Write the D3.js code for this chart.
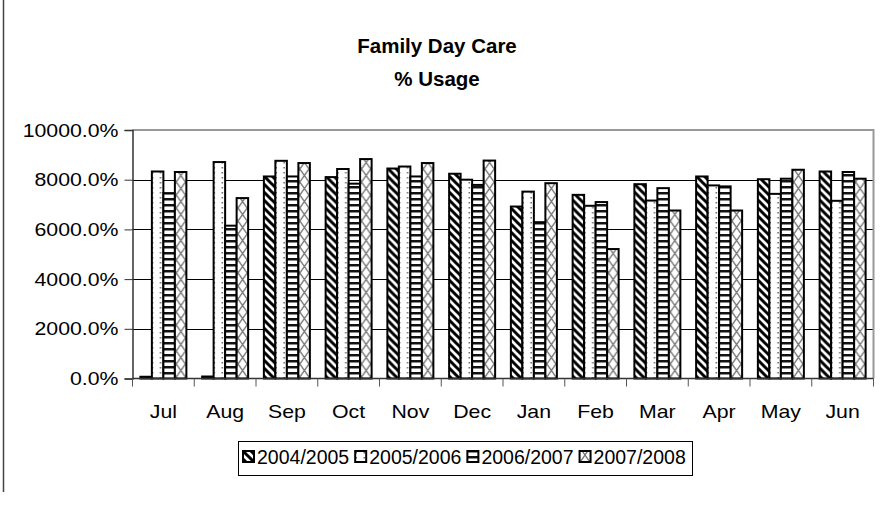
<!DOCTYPE html>
<html>
<head>
<meta charset="utf-8">
<script src="https://cdn.jsdelivr.net/npm/d3@7"></script>
<style>
  html, body { margin: 0; padding: 0; background: #fff; }
  svg { display: block; font-family: "Liberation Sans", Arial, sans-serif; }
</style>
</head>
<body>
<svg id="chart" width="886" height="506"></svg>
<script>
// Monthly usage, one array per financial year
const months = ["Jul", "Aug", "Sep", "Oct", "Nov", "Dec", "Jan", "Feb", "Mar", "Apr", "May", "Jun"];
const seriesNames = ["2004/2005", "2005/2006", "2006/2007", "2007/2008"];
const fy0405 = [70, 80, 8130, 8105, 8450, 8240, 6920, 7390, 7820, 8130, 8020, 8330];
const fy0506 = [8330, 8710, 8760, 8430, 8530, 8000, 7520, 6950, 7160, 7770, 7430, 7150];
const fy0607 = [7460, 6150, 8130, 7840, 8130, 7790, 6290, 7100, 7660, 7730, 8040, 8310];
const fy0708 = [8310, 7260, 8670, 8830, 8670, 8770, 7860, 5210, 6760, 6760, 8400, 8040];
const yTicks = [0, 2000, 4000, 6000, 8000, 10000];

const seriesValues = [fy0405, fy0506, fy0607, fy0708];
const rows = months.map((m, i) => ({
  month: m,
  values: seriesNames.map((s, k) => ({ series: s, value: seriesValues[k][i] }))
}));

const svg = d3.select("#chart");
const plot = { left: 132.5, right: 873.5, top: 130, bottom: 378.5 };
const widen = 1.12; // horizontal stretch of the axis lettering

function stretch(sel) {
  sel.each(function () {
    const w = this.getComputedTextLength();
    d3.select(this).attr("textLength", w * widen).attr("lengthAdjust", "spacingAndGlyphs");
  });
}

// Fill patterns for the four series
const defs = svg.append("defs");
const patIds = ["p-diag", "p-dots", "p-horiz", "p-cross"];

const pDiag = defs.append("pattern").attr("id", patIds[0])
  .attr("patternUnits", "userSpaceOnUse").attr("width", 8).attr("height", 8);
pDiag.append("rect").attr("width", 8).attr("height", 8).attr("fill", "#fff");
pDiag.append("path").attr("d", "M-2,-2 L10,10 M-2,6 L2,10 M6,-2 L10,2")
  .attr("stroke", "#000").attr("stroke-width", 3);

const pDots = defs.append("pattern").attr("id", patIds[1])
  .attr("patternUnits", "userSpaceOnUse").attr("width", 8).attr("height", 5);
pDots.append("rect").attr("width", 8).attr("height", 5).attr("fill", "#fff");
pDots.append("rect").attr("x", 3.5).attr("y", 2).attr("width", 1.5).attr("height", 1.5).attr("fill", "#666");

const pHoriz = defs.append("pattern").attr("id", patIds[2])
  .attr("patternUnits", "userSpaceOnUse").attr("width", 8).attr("height", 6);
pHoriz.append("rect").attr("width", 8).attr("height", 6).attr("fill", "#fff");
pHoriz.append("rect").attr("y", 0).attr("width", 8).attr("height", 2.5).attr("fill", "#111");

const pCross = defs.append("pattern").attr("id", patIds[3])
  .attr("patternUnits", "userSpaceOnUse").attr("width", 9).attr("height", 13);
pCross.append("rect").attr("width", 9).attr("height", 13).attr("fill", "#fff");
pCross.append("path").attr("d", "M0,0 L9,13 M9,0 L0,13")
  .attr("stroke", "#777").attr("stroke-width", 1.3);

// Outer frame (left edge visible)
svg.append("line").attr("x1", 3.5).attr("x2", 3.5).attr("y1", 0).attr("y2", 492)
  .attr("stroke", "#444").attr("stroke-width", 1.5);

// Title
const title = svg.append("text").attr("text-anchor", "middle")
  .attr("font-weight", "bold").attr("font-size", 20.5).attr("fill", "#000");
title.append("tspan").attr("x", 437).attr("y", 53).text("Family Day Care");
title.append("tspan").attr("x", 437).attr("y", 86).text("% Usage");

// Scales
const x0 = d3.scaleBand().domain(months).range([plot.left, plot.right])
  .paddingInner(0.255).paddingOuter(0.1275);
const x1 = d3.scaleBand().domain(seriesNames).range([0, x0.bandwidth()]);
const y = d3.scaleLinear().domain([0, 10000]).range([plot.bottom, plot.top]);

// Gridlines
svg.append("g").selectAll("line").data(yTicks.filter(t => t > 0 && t < 10000)).join("line")
  .attr("x1", plot.left).attr("x2", plot.right)
  .attr("y1", d => Math.round(y(d)) + 0.5).attr("y2", d => Math.round(y(d)) + 0.5)
  .attr("stroke", "#000").attr("stroke-width", 1);

// Plot area frame (top and right in grey)
svg.append("path")
  .attr("d", `M${plot.left},${plot.top} H${plot.right} V${plot.bottom}`)
  .attr("fill", "none").attr("stroke", "#999").attr("stroke-width", 2);

// Bars
const groups = svg.append("g").selectAll("g").data(rows).join("g")
  .attr("transform", d => `translate(${x0(d.month)},0)`);
groups.selectAll("rect").data(d => d.values).join("rect")
  .attr("x", d => x1(d.series))
  .attr("width", x1.bandwidth())
  .attr("y", d => y(d.value))
  .attr("height", d => y(0) - y(d.value))
  .attr("fill", (d, i) => `url(#${patIds[i]})`)
  .attr("stroke", "#000").attr("stroke-width", 2);

// Y axis
const yAxis = svg.append("g").attr("transform", `translate(${plot.left},0)`)
  .call(d3.axisLeft(y).tickValues(yTicks).tickSize(8).tickPadding(6)
    .tickFormat(d => d3.format(".1f")(d) + "%"));
yAxis.select(".domain").attr("stroke", "#333").attr("stroke-width", 1.5);
yAxis.selectAll(".tick line").attr("stroke", "#333");
yAxis.selectAll(".tick text").attr("font-size", 19).attr("fill", "#000")
  .attr("font-family", "Liberation Sans, Arial, sans-serif").call(stretch);

// X axis with ticks at category boundaries
const xAxisG = svg.append("g").attr("transform", `translate(0,${plot.bottom})`);
xAxisG.append("line").attr("x1", plot.left).attr("x2", plot.right)
  .attr("stroke", "#333").attr("stroke-width", 1.5);
const step = x0.step();
const bounds = d3.range(months.length + 1).map(i => plot.left + i * step);
xAxisG.selectAll("line.tk").data(bounds).join("line").attr("class", "tk")
  .attr("x1", d => d).attr("x2", d => d).attr("y1", 0).attr("y2", 8)
  .attr("stroke", "#555").attr("stroke-width", 1);
xAxisG.selectAll("text").data(months).join("text")
  .attr("x", d => x0(d) + x0.bandwidth() / 2)
  .attr("y", 39)
  .attr("text-anchor", "middle").attr("font-size", 19).attr("fill", "#000")
  .text(d => d).call(stretch);

// Legend
const legend = svg.append("g");
legend.append("rect").attr("x", 238.5).attr("y", 441.5).attr("width", 454).attr("height", 34)
  .attr("fill", "#fff").attr("stroke", "#000").attr("stroke-width", 1);
let lx = 243;
seriesNames.forEach((name, i) => {
  legend.append("rect").attr("x", lx).attr("y", 451).attr("width", 11).attr("height", 11)
    .attr("fill", `url(#${patIds[i]})`).attr("stroke", "#000").attr("stroke-width", 2);
  const t = legend.append("text").attr("x", lx + 14).attr("y", 464)
    .attr("font-size", 19.5).attr("fill", "#000").text(name);
  lx += 14 + t.node().getComputedTextLength() + 6;
});
</script>
</body>
</html>
